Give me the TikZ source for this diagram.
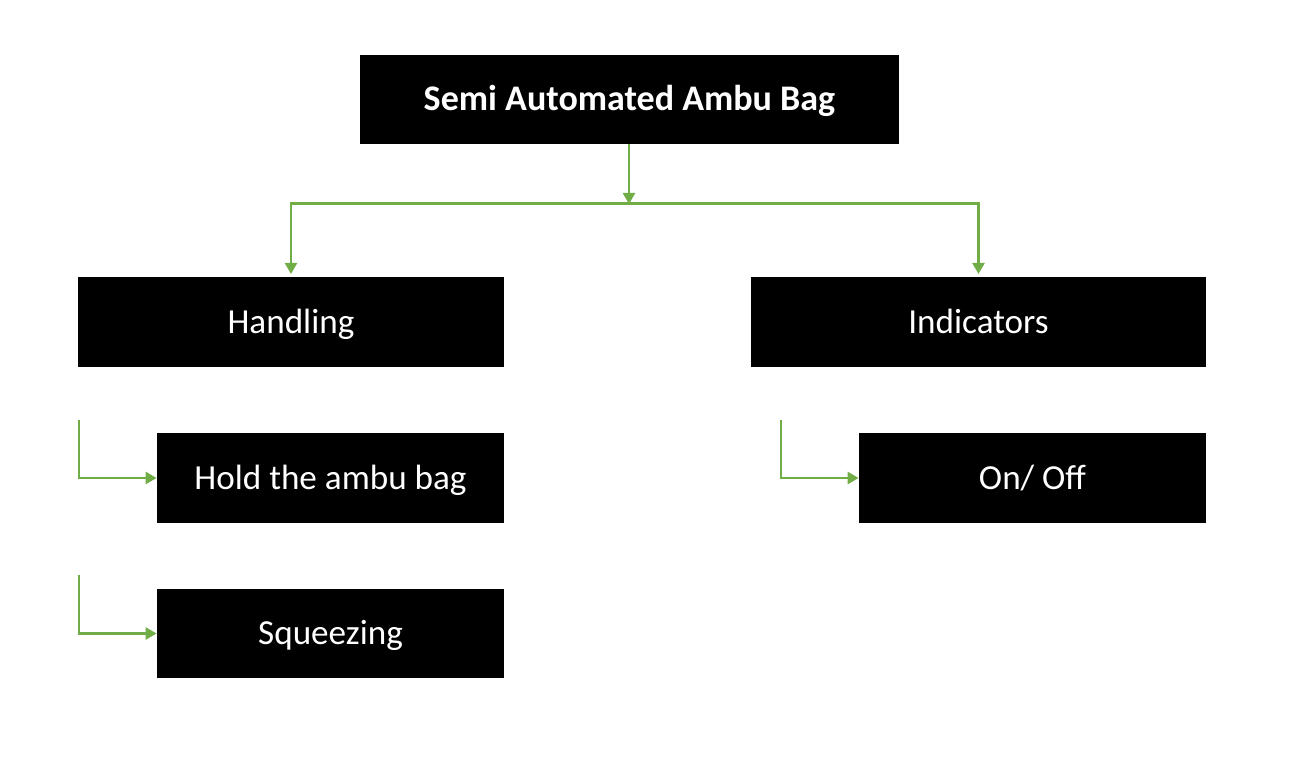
\documentclass[tikz,border=0pt]{standalone}
\usepackage{fontspec}
\setmainfont{Carlito}
\usetikzlibrary{arrows.meta}
\definecolor{linkgreen}{HTML}{70AD47}
\tikzset{
  blockbox/.style={fill=black, text=white, inner sep=0pt, text height=13pt, text depth=0pt, font=\fontsize{20}{24}\selectfont},
  link/.style={draw=linkgreen, line width=1.7pt, -{Triangle[width=6.8pt,length=6.3pt]}}
}
\begin{document}
\begin{tikzpicture}
	\useasboundingbox (0,0) rectangle (25.82,-15.6);
	\node[blockbox, minimum width=10.78cm, minimum height=1.78cm, font=\fontsize{20.5}{24}\selectfont\bfseries] (bag) at (12.59,-1.99) {Semi Automated Ambu Bag};
	\node[blockbox, minimum width=8.52cm, minimum height=1.8cm] (handling) at (5.82,-6.44) {Handling};
	\node[blockbox, minimum width=9.10cm, minimum height=1.8cm] (indicators) at (19.57,-6.44) {Indicators};
	\node[blockbox, minimum width=6.94cm, minimum height=1.8cm] (hold) at (6.61,-9.56) {Hold the ambu bag};
	\node[blockbox, minimum width=6.94cm, minimum height=1.78cm] (squeeze) at (6.61,-12.67) {Squeezing};
	\node[blockbox, minimum width=6.94cm, minimum height=1.8cm] (onoff) at (20.65,-9.56) {On/ Off};
	% connectors
	\coordinate (split) at (12.58,-4.08);
	\draw[link] (bag.south -| split) -- (split);
	\draw[link, shorten >=1.5pt] (split) -| (handling.north);
	\draw[link, shorten >=1.5pt] (split) -| (indicators.north);
	\coordinate (h1) at (1.58,-8.40);
	\coordinate (h2) at (1.58,-11.50);
	\coordinate (i1) at (15.62,-8.40);
	\draw[link] (h1) |- (hold.west);
	\draw[link] (h2) |- (squeeze.west);
	\draw[link] (i1) |- (onoff.west);
\end{tikzpicture}
\end{document}
